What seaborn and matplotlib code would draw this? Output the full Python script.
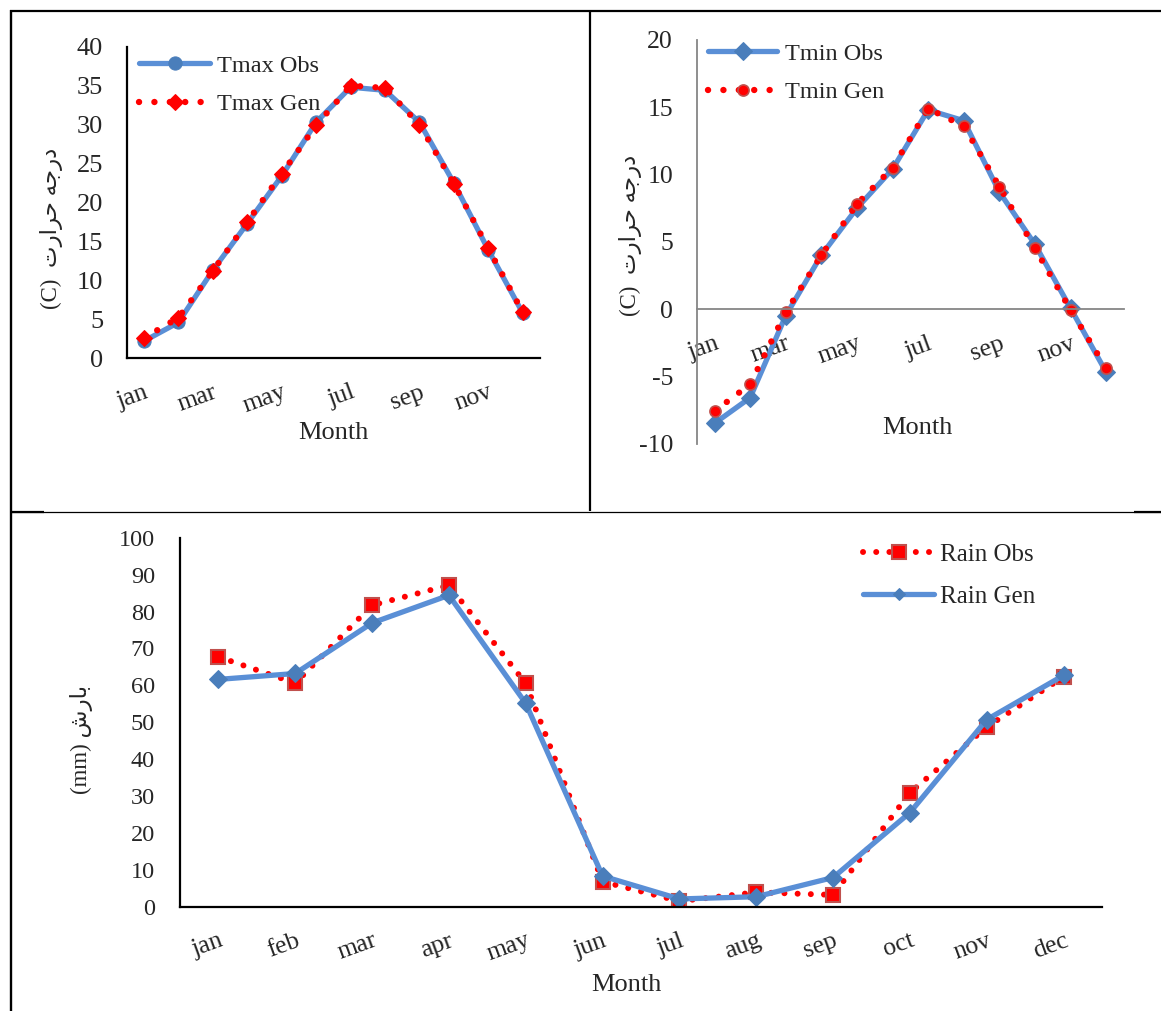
import numpy as np
import pandas as pd
import matplotlib
matplotlib.use("Agg")
import matplotlib.pyplot as plt
from matplotlib.lines import Line2D
import seaborn as sns

# ---------------- data ----------------
months = ['jan', 'feb', 'mar', 'apr', 'may', 'jun', 'jul', 'aug', 'sep', 'oct', 'nov', 'dec']
tmax_obs = [2.2, 4.6, 11.3, 17.3, 23.4, 30.3, 34.8, 34.4, 30.3, 22.5, 13.9, 5.8]
tmax_gen = [2.6, 5.2, 11.2, 17.5, 23.7, 29.9, 35.0, 34.7, 30.0, 22.4, 14.1, 5.9]
tmin_obs = [-8.5, -6.6, -0.5, 4.0, 7.5, 10.4, 14.8, 14.0, 8.7, 4.8, 0.05, -4.7]
tmin_gen = [-7.6, -5.6, -0.25, 4.0, 7.8, 10.5, 14.9, 13.6, 9.1, 4.5, -0.07, -4.4]
rain_obs = [67.7, 60.6, 81.7, 87.1, 60.5, 6.8, 1.5, 3.9, 3.2, 30.9, 48.7, 62.3]
rain_gen = [61.6, 63.2, 76.9, 84.4, 55.1, 8.3, 2.1, 2.7, 7.9, 25.5, 50.7, 62.7]

x_title = 'Month'
# Persian labels, written in visual order with Arabic presentation forms
temp_label = '(C)  ' + '\uFE95\uFEAD\uFE8D\uFEAE\uFEA3' + ' ' + '\uFEEA\uFE9F\uFEAD\uFEA9'   # درجه حرارت (C)
rain_label = '(mm) ' + '\uFEB5\uFEAD\uFE8E\uFE91'                                           # بارش (mm)

df = pd.DataFrame({'idx': np.arange(len(months)), 'month': months,
                   'tmax_obs': tmax_obs, 'tmax_gen': tmax_gen,
                   'tmin_obs': tmin_obs, 'tmin_gen': tmin_gen,
                   'rain_obs': rain_obs, 'rain_gen': rain_gen})

# ---------------- style ----------------
sns.set_style("white")
plt.rcParams['font.family'] = ['Liberation Serif', 'DejaVu Sans']
plt.rcParams['axes.unicode_minus'] = False

W, H = 1161, 1011
fig = plt.figure(figsize=(W / 100, H / 100), dpi=100)
fig.patch.set_facecolor('white')

def ax_rect(x0, x1, ytop, ybot):
    return [x0 / W, 1 - ybot / H, (x1 - x0) / W, (ybot - ytop) / H]

BLUE_LINE = '#5A8FD6'
BLUE_MARK = '#4A7EBB'
RED = '#FF0000'
RED_EDGE = '#C0504D'

def setup_xaxis(ax, labels_every, spine_color, fs, pad):
    n = len(months)
    ax.set_xlim(-0.5, n - 0.5)
    ax.set_xticks(np.arange(-0.5, n, 1.0))
    ax.set_xticklabels([])
    pos = list(range(0, n, labels_every))
    ax.set_xticks(pos, minor=True)
    ax.set_xticklabels([months[i] for i in pos], minor=True, fontsize=fs)
    ax.tick_params(axis='x', which='major', direction='out', length=6,
                   width=1.5, color=spine_color)
    ax.tick_params(axis='x', which='minor', length=0, pad=pad)
    for t in ax.get_xticklabels(minor=True):
        t.set_rotation(20)
        t.set_ha('right')
        t.set_va('top')
        t.set_rotation_mode('anchor')

def style_axes(ax, spine_color, lw):
    for s in ['top', 'right']:
        ax.spines[s].set_visible(False)
    for s in ['left', 'bottom']:
        ax.spines[s].set_color(spine_color)
        ax.spines[s].set_linewidth(lw)
    ax.grid(False)
    ax.set_facecolor('none')

# ---------------- top-left: Tmax ----------------
ax1 = fig.add_axes(ax_rect(126.7, 540, 46.7, 358.3))
sns.lineplot(data=df, x='idx', y='tmax_obs', ax=ax1, color=BLUE_LINE, linewidth=3.8,
             marker='o', markersize=9.5, markerfacecolor=BLUE_MARK, markeredgecolor=BLUE_MARK,
             label='Tmax Obs', sort=False)
sns.lineplot(data=df, x='idx', y='tmax_gen', ax=ax1, color=RED, linewidth=4.6,
             linestyle=(0, (0.01, 2.4)), dash_capstyle='round',
             marker='D', markersize=8, markerfacecolor=RED, markeredgecolor=RED,
             label='Tmax Gen', sort=False)
ax1.set_ylim(0, 40)
ax1.set_yticks(np.arange(0, 41, 5))
style_axes(ax1, 'black', 1.6)
ax1.tick_params(axis='y', direction='out', length=6, width=1.5, pad=11, labelsize=19)
setup_xaxis(ax1, 2, 'black', 18.5, 16.5)
ax1.set_xlabel(x_title, fontsize=19)
ax1.xaxis.set_label_coords(0.499, -0.240)
ax1.xaxis.label.set_va('center')
ax1.set_ylabel(temp_label, fontsize=16.5)
ax1.yaxis.set_label_coords(-0.181, 0.418)
ax1.yaxis.label.set_va('center')
ax1.legend(loc='upper left', bbox_to_anchor=(0.03, 0.975), frameon=False, fontsize=17.5,
           borderaxespad=0, borderpad=0, handlelength=2.92, handletextpad=0.3,
           labelspacing=0.68)

# ---------------- top-right: Tmin ----------------
GRAY = '#868686'
ax2 = fig.add_axes(ax_rect(696.7, 1124, 40, 443.5))
sns.lineplot(data=df, x='idx', y='tmin_obs', ax=ax2, color=BLUE_LINE, linewidth=3.8,
             marker='D', markersize=9, markerfacecolor=BLUE_MARK, markeredgecolor=BLUE_MARK,
             label='Tmin Obs', sort=False)
sns.lineplot(data=df, x='idx', y='tmin_gen', ax=ax2, color=RED, linewidth=4.6,
             linestyle=(0, (0.01, 2.4)), dash_capstyle='round',
             marker='o', markersize=8, markerfacecolor=RED, markeredgecolor=RED_EDGE,
             markeredgewidth=1.2, label='Tmin Gen', sort=False)
ax2.set_ylim(-10, 20)
ax2.set_yticks(np.arange(-10, 21, 5))
style_axes(ax2, GRAY, 1.3)
ax2.spines['bottom'].set_position(('data', 0))
ax2.tick_params(axis='y', direction='out', length=6, width=1.3, color=GRAY, pad=11,
                labelsize=18.5)
setup_xaxis(ax2, 2, GRAY, 18.5, 17)
ax2.set_xlabel(x_title, fontsize=19)
ax2.xaxis.set_label_coords(0.517, 0.038)
ax2.xaxis.label.set_va('center')
ax2.set_ylabel(temp_label, fontsize=16.5)
ax2.yaxis.set_label_coords(-0.156, 0.517)
ax2.yaxis.label.set_va('center')
ax2.legend(loc='upper left', bbox_to_anchor=(0.026, 0.993), frameon=False, fontsize=17.5,
           borderaxespad=0, borderpad=0, handlelength=2.86, handletextpad=0.3,
           labelspacing=0.68)

# ---------------- bottom: Rain ----------------
ax3 = fig.add_axes(ax_rect(180, 1102, 537.7, 906.7))
sns.lineplot(data=df, x='idx', y='rain_obs', ax=ax3, color=RED, linewidth=4.3,
             linestyle=(0, (0.01, 2.2)), dash_capstyle='round',
             marker='s', markersize=10.5, markerfacecolor=RED, markeredgecolor=RED_EDGE,
             markeredgewidth=1.5, label='Rain Obs', sort=False)
sns.lineplot(data=df, x='idx', y='rain_gen', ax=ax3, color=BLUE_LINE, linewidth=3.8,
             marker='D', markersize=8.7, markerfacecolor=BLUE_MARK, markeredgecolor=BLUE_MARK,
             label='Rain Gen', sort=False)
ax3.set_ylim(0, 100)
ax3.set_yticks(np.arange(0, 101, 10))
style_axes(ax3, 'black', 1.6)
ax3.tick_params(axis='y', direction='out', length=6, width=1.5, pad=12, labelsize=17.5)
setup_xaxis(ax3, 1, 'black', 18.5, 16.5)
ax3.set_xlabel(x_title, fontsize=19)
ax3.xaxis.set_label_coords(0.4837, -0.212)
ax3.xaxis.label.set_va('center')
ax3.set_ylabel(rain_label, fontsize=16.5)
ax3.yaxis.set_label_coords(-0.1067, 0.453)
ax3.yaxis.label.set_va('center')
leg3 = ax3.legend(loc='upper left', bbox_to_anchor=(0.741, 0.985), frameon=False, fontsize=18,
                  borderaxespad=0, borderpad=0, handlelength=2.84, handletextpad=0.24,
                  labelspacing=0.8)
leg3.legend_handles[1].set_markersize(6.3)

# ---------------- panel frame lines ----------------
def fline(x0, y0, x1, y1, lw):
    fig.add_artist(Line2D([x0 / W, x1 / W], [1 - y0 / H, 1 - y1 / H],
                          transform=fig.transFigure, color='black', linewidth=lw,
                          solid_capstyle='butt'))

fline(10, 10.5, W, 10.5, 1.6)        # top border
fline(10.5, 10, 10.5, H, 1.7)        # left border
fline(10, 512, W, 512, 0.9)          # separator
fline(10, 512, 44, 512, 1.6)
fline(1134, 512, W, 512, 1.6)
fline(590, 10, 590, 511, 1.6)        # vertical divider

fig.savefig('out.png', dpi=100, facecolor='white')
